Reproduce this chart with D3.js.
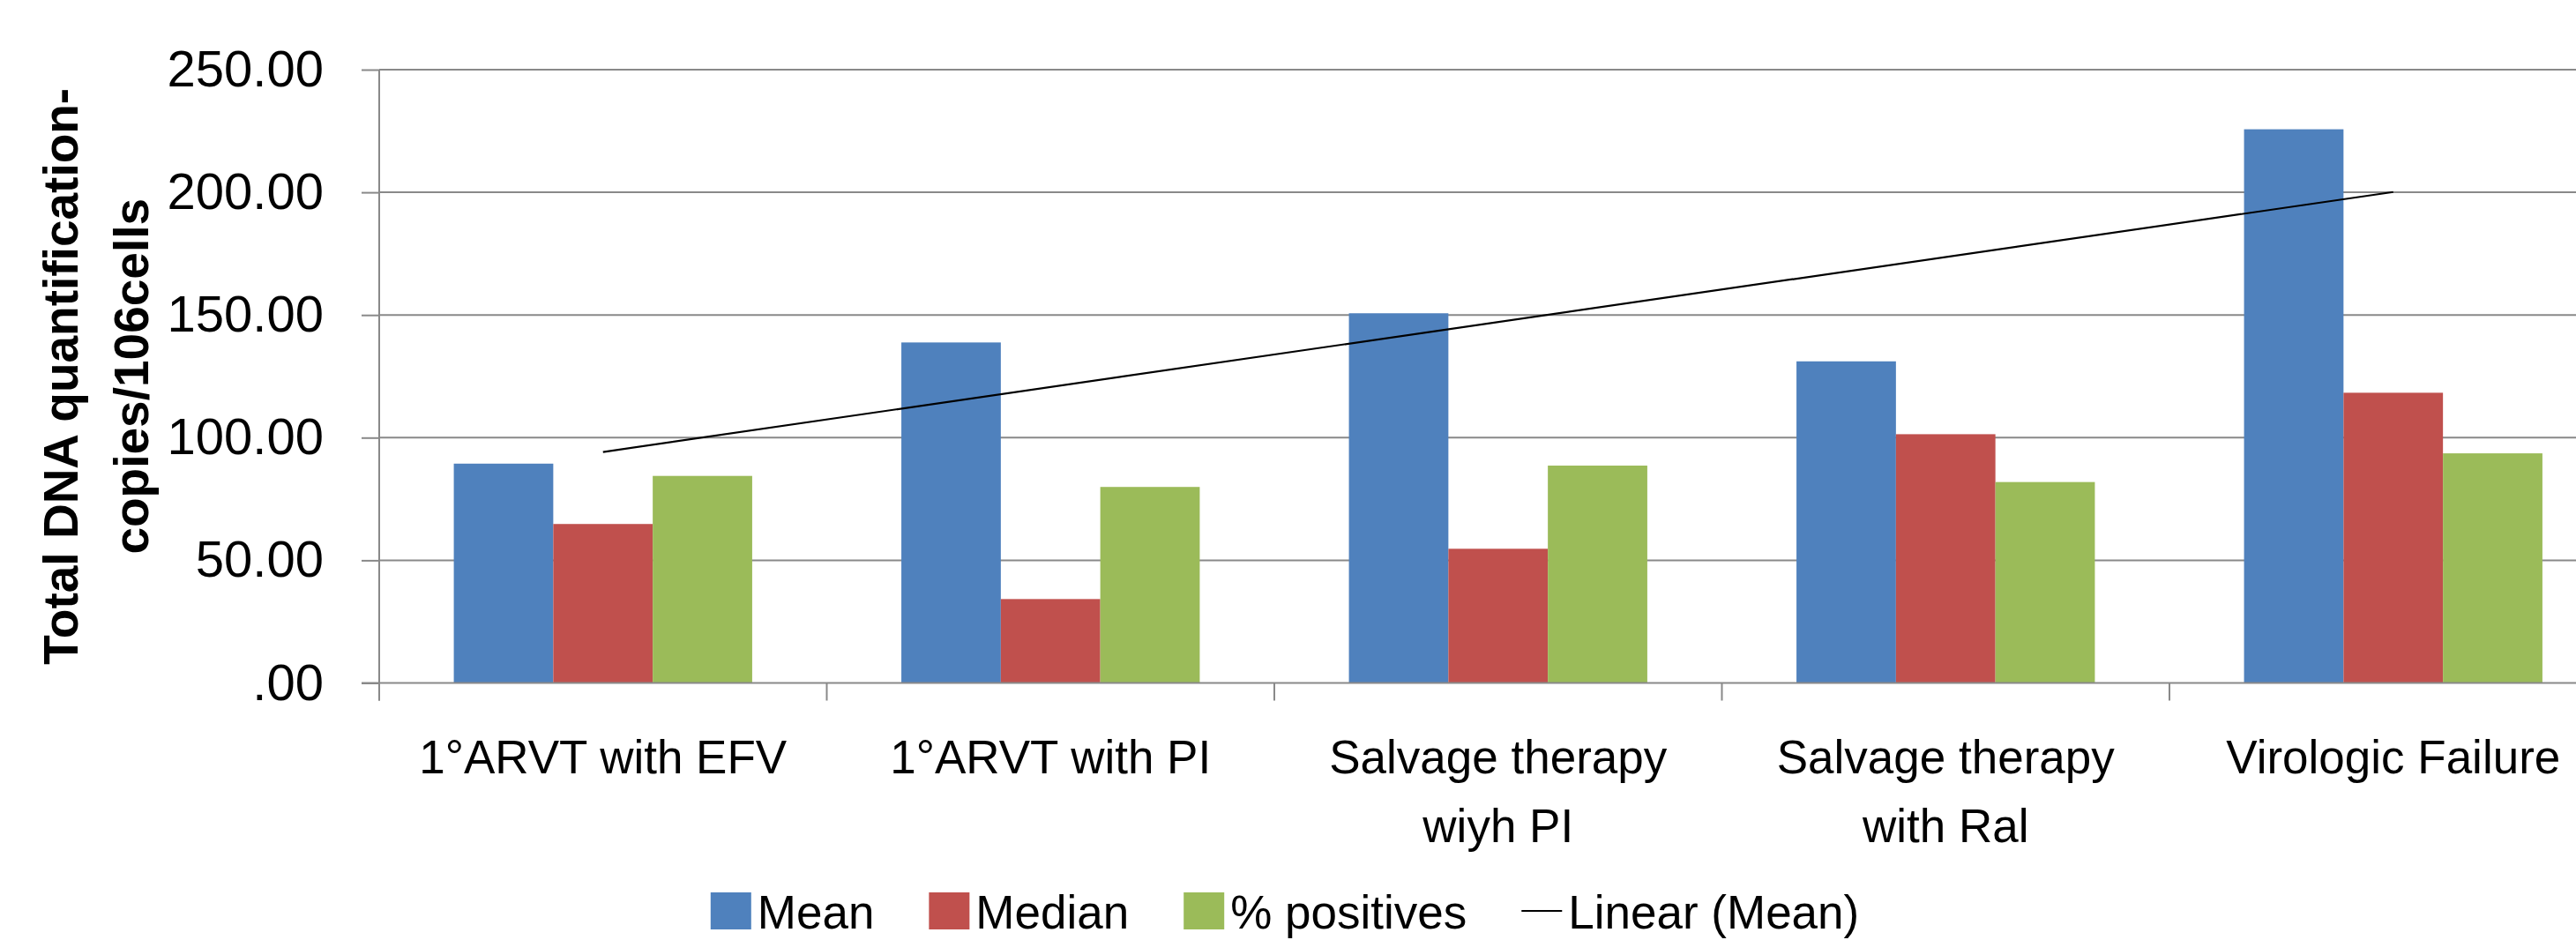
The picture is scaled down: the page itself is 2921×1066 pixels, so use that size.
<!DOCTYPE html>
<html>
<head>
<meta charset="utf-8">
<script src="https://cdn.jsdelivr.net/npm/d3@7"></script>
<style>
  body { margin: 0; background: #ffffff; }
  svg { display: block; }
</style>
</head>
<body>
<div id="chart"></div>
<script>
//////////////////// data ////////////////////
let categories = ["1°ARVT with EFV", "1°ARVT with PI", "Salvage therapy wiyh PI",
                  "Salvage therapy with Ral", "Virologic Failure"];
let series = ["Mean", "Median", "% positives"];
let mean_values = [89.4, 138.8, 150.7, 131.1, 225.7];
let median_values = [64.8, 34.2, 54.7, 101.4, 118.3];
let positives_values = [84.4, 79.9, 88.6, 81.9, 93.6];
let y_tick_values = [0, 50, 100, 150, 200, 250];
let y_tick_labels = [".00", "50.00", "100.00", "150.00", "200.00", "250.00"];
let y_title = ["Total DNA quantification-", "copies/106cells"];
let trend_label = "Linear (Mean)";

//////////////////// setup ////////////////////
let width = 2921, height = 1066;
let colors = ["#4f81bd", "#c0504d", "#9bbb59"];
let grid_color = "#898989";
let font = "'Liberation Sans', Arial, sans-serif";

let plot = { left: 430, top: 79, bottom: 774.5, step: 507.5 };
plot.right = plot.left + plot.step * categories.length;   // goes past the page edge

let svg = d3.select("#chart")
            .append("svg")
            .attr("width", width)
            .attr("height", height);

svg.append("rect")
   .attr("width", width)
   .attr("height", height)
   .attr("fill", "#ffffff");

// scales
let x = d3.scaleBand()
          .domain(categories)
          .range([plot.left, plot.right])
          .paddingInner(0)
          .paddingOuter(0);
let x_inner = d3.scaleBand()
                .domain(series)
                .range([0, x.bandwidth()])
                .paddingInner(0)
                .paddingOuter(0.75);
let y = d3.scaleLinear()
          .domain([0, 250])
          .range([plot.bottom, plot.top]);

// gridlines
svg.append("g")
   .selectAll("line")
   .data(y_tick_values.filter(function(d) { return d > 0 }))
   .enter()
   .append("line")
   .attr("x1", plot.left)
   .attr("x2", plot.right)
   .attr("y1", function(d) { return y(d) })
   .attr("y2", function(d) { return y(d) })
   .attr("stroke", grid_color)
   .attr("stroke-width", 2);

// y axis
let y_axis = svg.append("g")
                .attr("transform", `translate(${plot.left},0)`)
                .call(d3.axisLeft(y)
                        .tickValues(y_tick_values)
                        .tickSize(20)
                        .tickPadding(43)
                        .tickFormat(function(d, i) { return y_tick_labels[i] }));
y_axis.select(".domain")
      .attr("d", `M0,${plot.top}V${plot.bottom + 20}`)
      .attr("stroke", grid_color)
      .attr("stroke-width", 2);
y_axis.selectAll(".tick line")
      .attr("stroke", grid_color)
      .attr("stroke-width", 2);
y_axis.selectAll(".tick text")
      .attr("font-family", font)
      .attr("font-size", 58)
      .attr("fill", "#000000");

// bars
let bar_data = [mean_values, median_values, positives_values];
let groups = svg.append("g")
                .selectAll("g")
                .data(categories)
                .enter()
                .append("g")
                .attr("transform", function(d) { return `translate(${x(d)},0)` });
groups.selectAll("rect")
      .data(function(d, i) {
        return series.map(function(s, j) { return { key: s, value: bar_data[j][i], idx: j } });
      })
      .enter()
      .append("rect")
      .attr("x", function(d) { return x_inner(d.key) })
      .attr("width", x_inner.bandwidth())
      .attr("y", function(d) { return y(d.value) })
      .attr("height", function(d) { return y(0) - y(d.value) })
      .attr("fill", function(d) { return colors[d.idx] });

// x axis (category boundaries)
let x_ticks = d3.range(categories.length + 1).map(function(i) { return plot.left + i * plot.step });
svg.append("line")
   .attr("x1", plot.left - 20)
   .attr("x2", plot.right)
   .attr("y1", y(0))
   .attr("y2", y(0))
   .attr("stroke", grid_color)
   .attr("stroke-width", 2);
svg.append("g")
   .selectAll("line")
   .data(x_ticks)
   .enter()
   .append("line")
   .attr("x1", function(d) { return d })
   .attr("x2", function(d) { return d })
   .attr("y1", y(0))
   .attr("y2", y(0) + 20)
   .attr("stroke", grid_color)
   .attr("stroke-width", 2);

// category labels, wrapped like excel
let labels = svg.append("g")
                .selectAll("text")
                .data(categories)
                .enter()
                .append("text")
                .attr("x", function(d) { return x(d) + x.bandwidth() / 2 })
                .attr("y", 877)
                .attr("text-anchor", "middle")
                .attr("font-family", font)
                .attr("font-size", 53)
                .attr("fill", "#000000");
labels.each(function(d) {
  let el = d3.select(this);
  let cx = x(d) + x.bandwidth() / 2;
  let words = d.split(" "), line = [];
  let tspan = el.append("tspan").attr("x", cx).attr("dy", 0);
  words.forEach(function(w) {
    line.push(w);
    tspan.text(line.join(" "));
    if (tspan.node().getComputedTextLength() > 470 && line.length > 1) {
      line.pop();
      tspan.text(line.join(" "));
      line = [w];
      tspan = el.append("tspan").attr("x", cx).attr("dy", 78).text(w);
    }
  });
});

// linear trend of the mean
let n = mean_values.length;
let xs = d3.range(1, n + 1);
let x_bar = d3.mean(xs), y_bar = d3.mean(mean_values);
let slope = d3.sum(xs, function(v, i) { return (v - x_bar) * (mean_values[i] - y_bar) }) /
            d3.sum(xs, function(v) { return (v - x_bar) * (v - x_bar) });
let intercept = y_bar - slope * x_bar;
let trend = [
  [categories[0], intercept + slope * 1],
  [categories[n - 1], intercept + slope * n]
];
svg.append("path")
   .datum(trend)
   .attr("fill", "none")
   .attr("stroke", "#000000")
   .attr("stroke-width", 2.2)
   .attr("d", d3.line()
                .x(function(d) { return x(d[0]) + x.bandwidth() / 2 })
                .y(function(d) { return y(d[1]) }));

// y axis title (two lines, rotated)
let title = svg.append("text")
               .attr("transform", `translate(88,${(plot.top + plot.bottom) / 2}) rotate(-90)`)
               .attr("text-anchor", "middle")
               .attr("font-family", font)
               .attr("font-weight", "bold")
               .attr("font-size", 55)
               .attr("fill", "#000000");
title.selectAll("tspan")
     .data(y_title)
     .enter()
     .append("tspan")
     .attr("x", 0)
     .attr("y", function(d, i) { return i * 80 })
     .text(function(d) { return d });

// legend
let legend_items = series.map(function(s, i) { return { label: s, color: colors[i], type: "box" } });
legend_items.push({ label: trend_label, color: "#000000", type: "line" });
let legend = svg.append("g");
let lx = 0, key = 46, gap = 62, legend_y = 1053;
legend_items.forEach(function(item) {
  let g = legend.append("g").attr("transform", `translate(${lx},0)`);
  if (item.type == "box") {
    g.append("rect")
     .attr("x", 0)
     .attr("y", legend_y - 41)
     .attr("width", key)
     .attr("height", 42)
     .attr("fill", item.color);
  } else {
    g.append("line")
     .attr("x1", 0)
     .attr("x2", key)
     .attr("y1", legend_y - 20)
     .attr("y2", legend_y - 20)
     .attr("stroke", item.color)
     .attr("stroke-width", 2.2);
  }
  let t = g.append("text")
           .attr("x", key + 7)
           .attr("y", legend_y)
           .attr("font-family", font)
           .attr("font-size", 53)
           .attr("fill", "#000000")
           .text(item.label);
  lx += key + 7 + t.node().getComputedTextLength() + gap;
});
lx -= gap;
legend.attr("transform", `translate(${1457 - lx / 2},0)`);
</script>
</body>
</html>
